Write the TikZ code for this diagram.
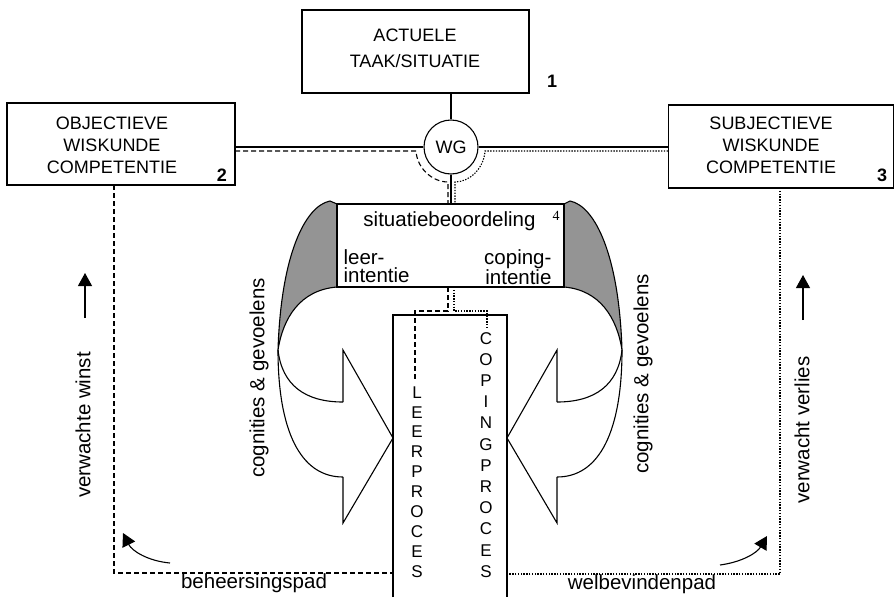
\documentclass[tikz,border=0pt]{standalone}
\usepackage{fontspec}
\setmainfont{Liberation Sans}
\newfontfamily\numserif{Liberation Serif}
\usetikzlibrary{arrows.meta}
\begin{document}
\begin{tikzpicture}[x=1pt,y=-1pt, line width=1.1pt,
  box/.style={draw, rectangle, inner sep=0pt},
  lbl/.style={inner sep=0pt, align=center, font=\fontsize{18}{22}\selectfont},
  txt/.style={inner sep=0pt, font=\fontsize{20.5}{18}\selectfont},
  num/.style={inner sep=0pt, font=\fontsize{18}{18}\selectfont\bfseries},
  stack/.style={inner sep=0pt, align=center},
  dashedline/.style={dash pattern=on 5pt off 3pt},
  dottedline/.style={dash pattern=on 1.4pt off 1.4pt},
  shade/.style={draw, fill=black!42},
  arr/.style={-{Triangle[length=13pt,width=14pt]}},
]
\useasboundingbox (0,0) rectangle (896,597);

% boxes
\node[box, minimum width=227pt, minimum height=83pt] (task) at (415.5,51.5) {};
\node[lbl, font=\fontsize{18}{26}\selectfont] (tasktxt) at (415,48) {ACTUELE\\TAAK/SITUATIE};
\node[num] (n1) at (552,81) {1};

\node[box, minimum width=228pt, minimum height=82pt] (obj) at (121,144) {};
\node[lbl] (objtxt) at (112,145.5) {OBJECTIEVE\\WISKUNDE\\COMPETENTIE};
\node[num] (n2) at (222,175) {2};

\node[box, minimum width=225pt, minimum height=83pt] (subj) at (781,146.5) {};
\node[lbl] (subjtxt) at (771,145.5) {SUBJECTIEVE\\WISKUNDE\\COMPETENTIE};
\node[num] (n3) at (882,175.5) {3};

\node[draw, circle, minimum size=54pt, inner sep=0pt, font=\fontsize{18}{18}\selectfont] (wg) at (451,147) {WG};

% shaded regions (behind situation box)
\coordinate (cl) at (278,350);
\coordinate (cr) at (622,350);
\draw[shade] (337,204) -- (330,201) .. controls (305,206) and (281,255) .. (cl) .. controls (283,318) and (300,290) .. (337,287) -- cycle;
\draw[shade] (564,204) -- (570,201) .. controls (595,206) and (619,255) .. (cr) .. controls (617,318) and (600,290) .. (564,287) -- cycle;

\node[box, fill=white, minimum width=227pt, minimum height=83pt] (sit) at (450.5,245.5) {};
\node[txt, anchor=base] (sittxt) at (449.5,226.5) {situatiebeoordeling};
\node[inner sep=0pt, font=\numserif\fontsize{14}{14}\selectfont] (n4) at (556,216) {4};
\node[txt, align=left, anchor=north west] (leertxt) at (343,249) {leer-\\intentie};
\node[txt, align=right, anchor=north east] (coptxt) at (552,249) {coping-\\intentie};

% connectors around WG
\draw (wg.north) -- (wg.north |- task.south);
\draw (wg.west) -- (wg.west -| obj.east);
\draw (wg.east) -- (wg.east -| subj.west);
\draw (wg.south) -- (wg.south |- sit.north);
\coordinate (dl0) at (235,151);
\coordinate (dl1) at (416,151);
\coordinate (dl2) at (448,182);
\coordinate (dl3) at (448,204);
\draw[dashedline] (dl0) -- (dl1) .. controls (417,168) and (432,182) .. (dl2) -- (dl3);
\coordinate (dr0) at (668,151);
\coordinate (dr1) at (485,151);
\coordinate (dr2) at (455,182);
\coordinate (dr3) at (455,204);
\draw[dottedline] (dr0) -- (dr1) .. controls (484,168) and (470,182) .. (dr2) -- (dr3);

% process column
\coordinate (pTL) at (393,315);
\coordinate (pTR) at (507,315);
\coordinate (pBL) at (393,597);
\coordinate (pBR) at (507,597);
\draw (pBL) -- (pTL) -- (pTR) -- (pBR);
\node[stack, font=\fontsize{17}{19.9}\selectfont, anchor=south] (leer) at (417,578) {L\\E\\E\\R\\P\\R\\O\\C\\E\\S};
\node[stack, font=\fontsize{17}{21.2}\selectfont, anchor=south] (coping) at (486,578) {C\\O\\P\\I\\N\\G\\P\\R\\O\\C\\E\\S};

\coordinate (sl0) at (448,287);
\coordinate (sl1) at (448,311);
\coordinate (sl2) at (415,311);
\coordinate (sl3) at (415,381);
\draw[dashedline] (sl0) -- (sl1) -- (sl2) -- (sl3);
\coordinate (sr0) at (454,287);
\coordinate (sr1) at (454,311);
\coordinate (sr2) at (487,311);
\coordinate (sr3) at (487,328);
\draw[dottedline] (sr0) -- (sr1) -- (sr2) -- (sr3);

% chevron arrows and curves
\draw (cl) .. controls (282,385) and (305,402) .. (343,402);
\draw (cl) .. controls (278,430) and (300,477) .. (343,477);
\draw (343,402) -- (343,350) -- (393,438) -- (343,523) -- (343,477);
\draw (cr) .. controls (618,385) and (595,402) .. (557,402);
\draw (cr) .. controls (622,430) and (600,477) .. (557,477);
\draw (557,402) -- (557,350) -- (507,438) -- (557,523) -- (557,477);

\node[txt, rotate=90] (cgl) at (259,378) {cognities \& gevoelens};
\node[txt, rotate=90] (cgr) at (643,374) {cognities \& gevoelens};

% outer paths
\coordinate (ol0) at (114,185);
\coordinate (ol1) at (114,573);
\coordinate (ol2) at (393,573);
\draw[dashedline] (ol0) -- (ol1) -- (ol2);
\coordinate (or0) at (780,188);
\coordinate (or1) at (780,574);
\coordinate (or2) at (507,574);
\draw[dottedline] (or0) -- (or1) -- (or2);

\node[txt, anchor=base] (bp) at (254,588) {beheersingspad};
\node[txt, anchor=base] (wp) at (642,589) {welbevindenpad};
\node[txt, rotate=90] (vw) at (83,425) {verwachte winst};
\node[txt, rotate=90] (vv) at (802,430) {verwacht verlies};

\coordinate (a1s) at (85,318);
\coordinate (a1e) at (85,273);
\draw[arr] (a1s) -- (a1e);
\coordinate (a2s) at (803,320);
\coordinate (a2e) at (803,275);
\draw[arr] (a2s) -- (a2e);
\coordinate (a3s) at (170,563);
\coordinate (a3e) at (123,533);
\draw[arr] (a3s) .. controls (148,561) and (132,551) .. (a3e);
\coordinate (a4s) at (720,565);
\coordinate (a4e) at (767,536);
\draw[arr] (a4s) .. controls (742,562) and (757,553) .. (a4e);
\end{tikzpicture}
\end{document}
